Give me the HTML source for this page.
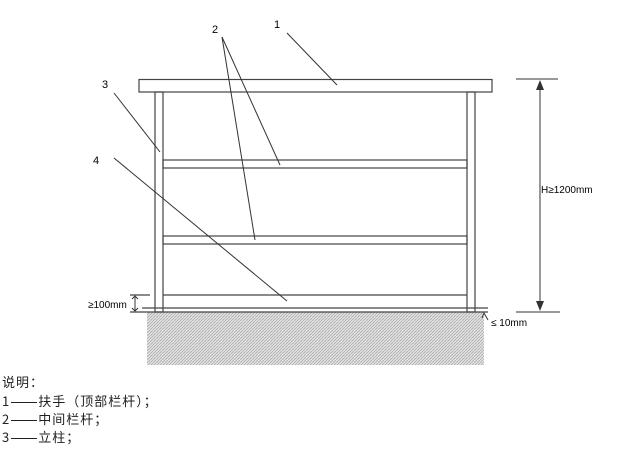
<!DOCTYPE html>
<html lang="zh-CN"><head><meta charset="utf-8"><style>
body{margin:0;width:624px;height:457px;background:#fff;overflow:hidden;position:relative}
.t{position:absolute;font-family:"Noto Sans CJK SC","WenQuanYi Zen Hei",sans-serif;font-size:13px;line-height:16px;color:#222;left:2px;white-space:nowrap;letter-spacing:1px}
.d{display:inline-block;width:26px;height:1px;background:#222;vertical-align:middle;margin:0 1px}
</style></head><body>
<svg width="624" height="457" style="position:absolute;left:0;top:0">
<defs><pattern id="h" width="3" height="3" patternUnits="userSpaceOnUse"><rect width="3" height="3" fill="#e4e4e4"/><path d="M0 3L3 0" stroke="#aaa" stroke-width="0.8"/></pattern></defs>
<rect x="147" y="312" width="337" height="53" fill="url(#h)"/>
<g fill="none" stroke="#444" stroke-width="1.2">
<rect x="139" y="79.5" width="353" height="12.5" fill="#fff"/>
<rect x="155" y="92" width="8" height="220"/>
<rect x="467" y="92" width="8" height="220"/>
<rect x="163" y="160" width="304" height="8"/>
<rect x="163" y="236" width="304" height="8"/>
<line x1="163" y1="295" x2="467" y2="295"/>
<line x1="142" y1="308" x2="488" y2="308"/>
<line x1="130" y1="312" x2="488" y2="312"/>
<line x1="130" y1="295" x2="150" y2="295"/>
</g>
<g stroke="#333" stroke-width="1">
<line x1="287" y1="33" x2="337" y2="85"/>
<line x1="222" y1="37" x2="280" y2="165"/>
<line x1="222" y1="37" x2="255" y2="240"/>
<line x1="114" y1="93" x2="160" y2="152"/>
<line x1="114" y1="158" x2="287" y2="301"/>
<line x1="516" y1="79" x2="558" y2="79"/>
<line x1="516" y1="312" x2="560" y2="312"/>
<line x1="540" y1="84" x2="540" y2="307"/>
<line x1="135" y1="297" x2="135" y2="310"/>
</g>
<path d="M536 90L540 80L544 90Z M536 301L540 311L544 301Z" fill="#333"/>
<path d="M132 299L135 296L138 299 M132 308L135 311L138 308 M488 320L484 313L482 318" stroke="#333" fill="none"/>
<g font-family="Liberation Sans,sans-serif" font-size="11" fill="#000">
<text x="274" y="28">1</text><text x="212" y="33">2</text><text x="102" y="88">3</text><text x="93" y="164">4</text>
<text x="541" y="193" font-size="10">H≥1200mm</text>
<text x="88" y="308" font-size="10">≥100mm</text>
<text x="491" y="326" font-size="10">≤ 10mm</text>
</g>
</svg>
<div class="t" style="top:374px">说明：</div>
<div class="t" style="top:393px">1<span class="d"></span>扶手（顶部栏杆）；<span style="display:none">——</span></div>
<div class="t" style="top:411px">2<span class="d"></span>中间栏杆；</div>
<div class="t" style="top:429px">3<span class="d"></span>立柱；</div>
</body></html>
